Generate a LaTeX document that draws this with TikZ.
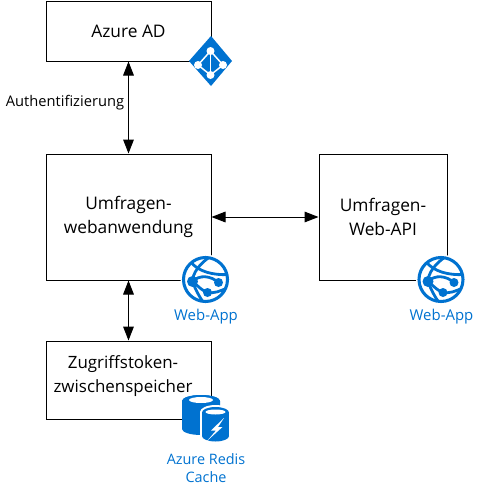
\documentclass[tikz,border=0pt]{standalone}
\usepackage{fontspec}
\setmainfont{Open Sans}
\usetikzlibrary{arrows.meta}
\definecolor{azureblue}{HTML}{0072D0}
\tikzset{
	boxnode/.style={draw,line width=0.75pt,inner sep=0pt,align=center,font=\fontsize{13}{18}\selectfont},
	iconlabel/.style={inner sep=0pt,align=center,text=azureblue,font=\fontsize{10.8}{13.5}\selectfont},
	bothways/.style={{Triangle[length=10.5pt,width=8pt]}-{Triangle[length=10.5pt,width=8pt]},line width=0.75pt},
}
\begin{document}
\begin{tikzpicture}[x=0.75pt,y=0.75pt,yscale=-1,xscale=1]
	\useasboundingbox (0,0) rectangle (481,494);
	
	% Boxes
	\node [boxnode,minimum width=123.75pt,minimum height=45pt] (azuread) at (128.5,31) {Azure AD};
	\node [boxnode,minimum width=123.75pt,minimum height=94.5pt] (webapp) at (128.5,217) {Umfragen-\\webanwendung};
	\node [boxnode,minimum width=96pt,minimum height=94.5pt] (webapi) at (383,217) {Umfragen-\\Web-API};
	\node [boxnode,minimum width=123.75pt,minimum height=58.5pt] (tokencache) at (128.5,380) {};
	\node [inner sep=0pt,align=center,font=\fontsize{12.7}{18}\selectfont] (cachetext) at (123,376) {Zugriffstoken-\\zwischenspeicher};
	
	% Connectors
	\draw [bothways] (azuread) -- (webapp);
	\draw [bothways] (webapp) -- (tokencache);
	\draw [bothways] (webapp) -- (webapi);
	
	% Text Node
	\node [inner sep=0pt,fill=white,font=\fontsize{11}{13.5}\selectfont] (authlabel) at (65,103) {Authentifizierung};
	
	% Azure AD icon
	\fill [azureblue] (211,36) -- (232,61) -- (211,86) -- (189,61) -- cycle;
	\draw [white,line width=1.1pt] (210.5,51) -- (198,65) -- (210.5,75) -- (223,65) -- cycle;
	\draw [white,line width=1.1pt] (210.5,51) -- (210.5,75);
	\foreach \px/\py in {210.5/51,198/65,223/65,210.5/75}
		\fill [white] (\px,\py) circle (4);
	
	% Web-App icons
	\foreach \cx/\lname in {205.5/webapplabel,441/webapilabel}{
		\begin{scope}[shift={(\cx,279.5)}]
			\fill [white] (0,0) circle (25);
			\draw [azureblue,line width=2.3pt] (0,0) circle (22);
			\begin{scope}
				\clip (0,0) circle (22);
				\draw [azureblue,line width=2.1pt] (-15,-18) .. controls (-8,-8) and (8,-4) .. (23,-5);
				\draw [azureblue,line width=2.1pt] (5,-23) .. controls (-6,-16) and (-13,-6) .. (-13,2);
				\draw [azureblue,line width=2.1pt] (-13,2) .. controls (-10,10) and (-7,16) .. (-2,23);
				\draw [azureblue,line width=2.1pt] (-13,2) .. controls (-6,-5) and (5,-4) .. (13,3);
				\draw [azureblue,line width=2.1pt] (-13,2) .. controls (-6,8) and (-2,12) .. (2,13) .. controls (8,14) and (15,12) .. (22,8);
			\end{scope}
			\fill [azureblue] (-13,2) circle (5.5);
			\fill [azureblue] (13,3) circle (4.5);
			\fill [azureblue] (2,13) circle (4.5);
		\end{scope}
		\node [iconlabel,font=\fontsize{11.2}{13.5}\selectfont] (\lname) at (\cx+0.5,317) {Web-App};
	}
	
	% Redis icon
	\fill [azureblue] (182,401) arc [start angle=180,end angle=360,x radius=19,y radius=6] -- (220,429) arc [start angle=0,end angle=180,x radius=19,y radius=6] -- cycle;
	\fill [azureblue] (201,401) ellipse (19 and 6);
	\fill [white] (201,400) ellipse (12 and 3);
	\fill [white] (215.5,412) ellipse (15.5 and 7);
	\fill [white] (200,412) rectangle (231,436);
	\fill [white] (215.5,436) ellipse (15.5 and 7);
	\fill [azureblue] (215.5,412.5) ellipse (13.5 and 5.5);
	\fill [azureblue] (202,412.5) rectangle (229,436);
	\fill [azureblue] (215.5,436) ellipse (13.5 and 5.5);
	\fill [white] (215.5,412) ellipse (10 and 2.5);
	\fill [white] (224,418) -- (211,430.5) -- (216,430.5) -- (207,441) -- (222.5,427) -- (218,427) -- cycle;
	\node [iconlabel] (redislabel) at (206,468) {Azure Redis\\Cache};
\end{tikzpicture}
\end{document}
